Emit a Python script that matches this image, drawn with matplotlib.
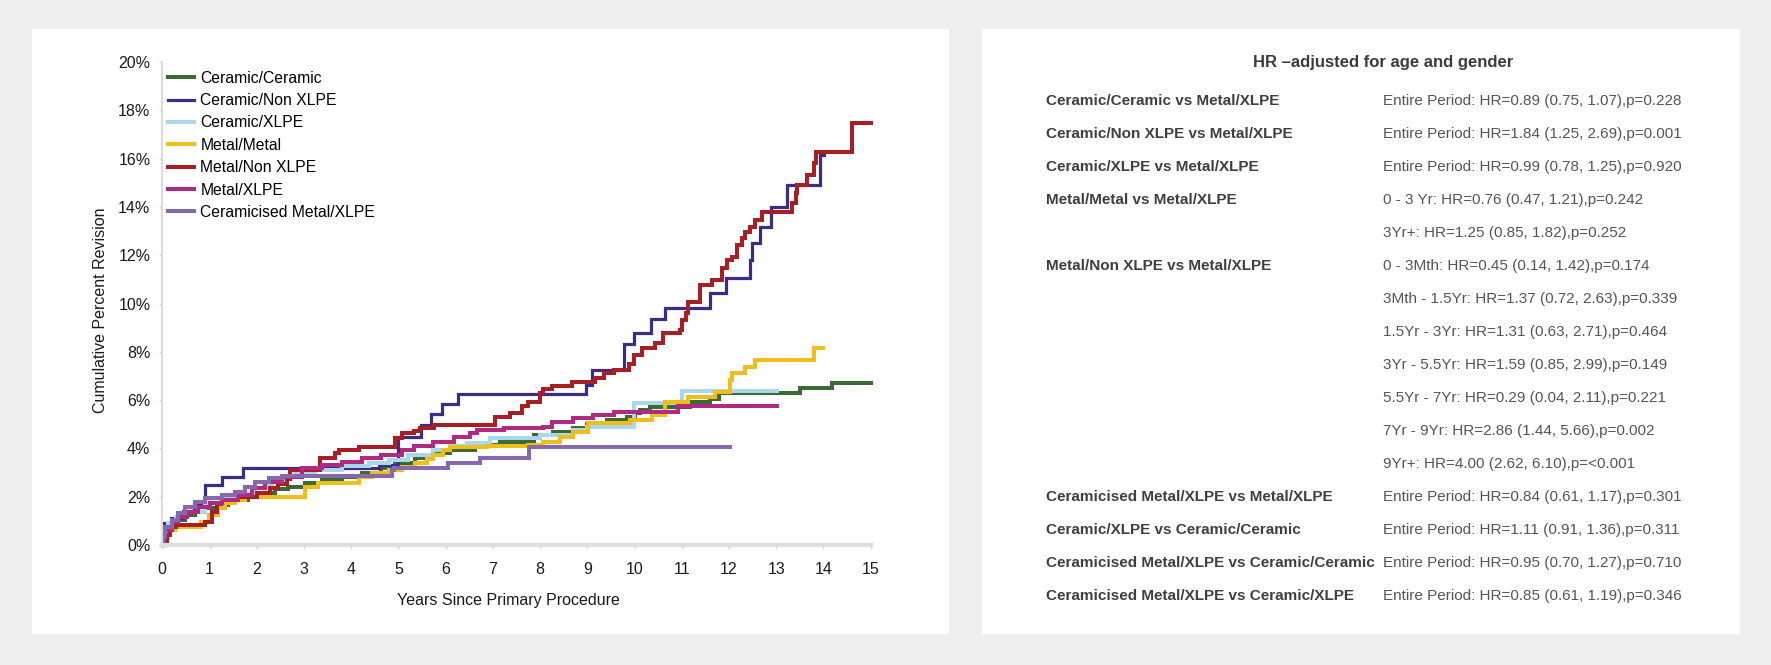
import numpy as np
import matplotlib
matplotlib.use('Agg')
import matplotlib.pyplot as plt
from matplotlib import font_manager
from matplotlib.patches import Rectangle

# pick a narrow face if one is installed
have = {f.name for f in font_manager.fontManager.ttflist}
font = 'Liberation Sans'
for name in ['Liberation Sans Narrow', 'DejaVu Sans Condensed', 'Liberation Sans']:
    if name in have:
        font = name
        break
plt.rcParams['font.family'] = [font, 'DejaVu Sans']

# cumulative percent revision (years, %)
cc_t = [0, 0.02, 0.12, 0.27, 0.48, 0.69, 0.90, 1.15, 1.40, 1.82, 2.10, 2.39, 2.67, 3.02, 3.38, 3.80, 4.22, 4.64, 4.93,
        5.36, 5.74, 6.09, 6.62, 7.15, 7.86, 8.28, 8.70, 8.99, 9.41, 9.84, 10.01, 10.12, 10.33, 10.90, 11.18, 11.60,
        11.78, 13.51, 14.18, 15.0]
cc_y = [0, 0.3, 0.76, 1.03, 1.24, 1.38, 1.52, 1.66, 1.86, 2.0, 2.14, 2.31, 2.41, 2.58, 2.69, 2.83, 2.97, 3.18, 3.38,
        3.59, 3.8, 3.93, 4.14, 4.28, 4.55, 4.69, 4.83, 5.01, 5.18, 5.29, 5.45, 5.59, 5.7, 5.73, 5.93, 6.03,
        6.28, 6.49, 6.72, 6.72]

cn_t = [0, 0.03, 0.19, 0.43, 0.67, 0.90, 1.26, 1.71, 4.59, 4.99, 5.48, 5.68, 5.92, 6.26, 8.97, 9.10, 9.77, 9.98,
        10.34, 10.65, 11.59, 11.94, 12.45, 12.48, 12.65, 12.88, 13.22, 13.93, 14.01]
cn_y = [0, 0.92, 1.1, 1.4, 1.7, 2.48, 2.83, 3.2, 3.31, 4.49, 4.97, 5.41, 5.84, 6.25, 6.63, 7.25, 8.31, 8.77,
        9.35, 9.8, 10.42, 11.07, 11.8, 12.49, 13.18, 14.0, 14.9, 16.15, 16.15]

cx_t = [0, 0.02, 0.12, 0.29, 0.48, 0.90, 1.26, 1.68, 1.97, 2.16, 2.32, 2.59, 2.81, 3.23, 3.80, 4.37, 4.79, 5.21,
        5.74, 6.09, 6.45, 6.94, 8.00, 8.70, 8.99, 9.98, 11.01, 13.01]
cx_y = [0, 0.4, 0.9, 1.15, 1.38, 1.72, 1.93, 2.14, 2.35, 2.5, 2.62, 2.8, 2.97, 3.1, 3.27, 3.38, 3.52, 3.73,
        3.93, 4.1, 4.24, 4.42, 4.55, 4.76, 4.9, 5.87, 6.39, 6.39]

mm_t = [0, 0.03, 0.12, 0.27, 0.83, 0.98, 1.19, 1.32, 1.54, 1.76, 3.02, 3.30, 4.16, 4.43, 4.79, 5.07, 5.36, 5.60,
        5.74, 5.95, 6.09, 6.87, 7.75, 8.07, 8.43, 8.70, 9.02, 9.91, 10.36, 10.65, 11.14, 11.71, 12.03, 12.06,
        12.34, 12.55, 13.79, 14.00]
mm_y = [0, 0.3, 0.62, 0.76, 0.97, 1.24, 1.52, 1.72, 1.86, 2.0, 2.41, 2.55, 2.83, 2.97, 3.1, 3.24, 3.38, 3.55,
        3.73, 3.95, 4.07, 4.11, 4.14, 4.28, 4.48, 4.69, 5.04, 5.18, 5.38, 5.93, 6.14, 6.35, 6.83, 7.13,
        7.38, 7.66, 8.14, 8.14]

mn_t = [0, 0.06, 0.10, 0.17, 0.29, 0.90, 1.05, 1.15, 1.26, 1.61, 2.00, 2.28, 2.46, 2.64, 2.71, 3.34, 3.66, 3.74,
        4.16, 4.93, 5.07, 5.32, 5.46, 5.76, 7.04, 7.37, 7.61, 7.75, 8.00, 8.07, 8.25, 8.68, 9.17, 9.35, 9.56,
        9.88, 9.98, 10.15, 10.44, 10.61, 10.97, 11.01, 11.08, 11.14, 11.39, 11.64, 11.85, 11.96, 12.06, 12.17,
        12.27, 12.34, 12.45, 12.55, 12.70, 13.33, 13.41, 13.44, 13.65, 13.79, 13.84, 14.61, 15.0]
mn_y = [0, 0.07, 0.4, 0.76, 0.83, 0.97, 1.38, 1.72, 1.86, 2.0, 2.14, 2.35, 2.53, 2.72, 3.1, 3.59, 3.8, 3.93,
        4.07, 4.44, 4.62, 4.72, 4.83, 4.97, 5.29, 5.45, 5.76, 5.93, 6.28, 6.45, 6.58, 6.76, 6.9, 7.11, 7.25,
        7.5, 7.87, 8.14, 8.35, 8.77, 8.9, 9.32, 9.59, 10.07, 10.77, 10.97, 11.46, 11.8, 11.94, 12.42,
        12.7, 12.97, 13.18, 13.46, 13.8, 14.15, 14.56, 14.9, 15.32, 15.8, 16.29, 17.49, 17.49]

mx_t = [0, 0.03, 0.06, 0.20, 0.34, 0.52, 0.76, 1.01, 1.26, 1.61, 1.89, 2.18, 2.53, 2.96, 3.38, 3.80, 4.22, 4.64,
        5.07, 5.32, 5.74, 6.17, 6.52, 6.66, 7.23, 8.07, 8.25, 8.70, 9.13, 9.56, 10.93, 13.01]
mx_y = [0, 0.4, 0.62, 0.97, 1.17, 1.38, 1.59, 1.72, 1.86, 2.07, 2.35, 2.62, 2.83, 3.17, 3.31, 3.45, 3.59, 3.73,
        3.93, 4.1, 4.28, 4.46, 4.62, 4.76, 4.83, 4.87, 5.11, 5.25, 5.38, 5.52, 5.76, 5.76]

cm_t = [0, 0.01, 0.06, 0.20, 0.34, 0.48, 0.69, 0.90, 1.26, 1.54, 1.76, 1.97, 2.25, 2.53, 4.86, 4.91, 6.06, 6.73,
        7.77, 12.03]
cm_y = [0, 0.34, 0.76, 1.03, 1.31, 1.59, 1.79, 1.93, 2.07, 2.21, 2.41, 2.62, 2.76, 2.86, 3.1, 3.17, 3.38, 3.59,
        4.07, 4.07]

series = [
    ('Ceramic/Ceramic', cc_t, cc_y, '#3b6a34'),
    ('Ceramic/Non XLPE', cn_t, cn_y, '#3b2c87'),
    ('Ceramic/XLPE', cx_t, cx_y, '#a9d7eb'),
    ('Metal/Metal', mm_t, mm_y, '#f0be1b'),
    ('Metal/Non XLPE', mn_t, mn_y, '#a51f24'),
    ('Metal/XLPE', mx_t, mx_y, '#b02a80'),
    ('Ceramicised Metal/XLPE', cm_t, cm_y, '#8669ad'),
]

year_ticks = list(range(16))
pct_ticks = list(range(0, 21, 2))

comparisons = ['Ceramic/Ceramic vs Metal/XLPE', 'Ceramic/Non XLPE vs Metal/XLPE', 'Ceramic/XLPE vs Metal/XLPE',
               'Metal/Metal vs Metal/XLPE', '', 'Metal/Non XLPE vs Metal/XLPE', '', '', '', '', '', '',
               'Ceramicised Metal/XLPE vs Metal/XLPE', 'Ceramic/XLPE vs Ceramic/Ceramic',
               'Ceramicised Metal/XLPE vs Ceramic/Ceramic', 'Ceramicised Metal/XLPE vs Ceramic/XLPE']
hr_text = ['Entire Period: HR=0.89 (0.75, 1.07),p=0.228',
           'Entire Period: HR=1.84 (1.25, 2.69),p=0.001',
           'Entire Period: HR=0.99 (0.78, 1.25),p=0.920',
           '0 - 3 Yr: HR=0.76 (0.47, 1.21),p=0.242',
           '3Yr+: HR=1.25 (0.85, 1.82),p=0.252',
           '0 - 3Mth: HR=0.45 (0.14, 1.42),p=0.174',
           '3Mth - 1.5Yr: HR=1.37 (0.72, 2.63),p=0.339',
           '1.5Yr - 3Yr: HR=1.31 (0.63, 2.71),p=0.464',
           '3Yr - 5.5Yr: HR=1.59 (0.85, 2.99),p=0.149',
           '5.5Yr - 7Yr: HR=0.29 (0.04, 2.11),p=0.221',
           '7Yr - 9Yr: HR=2.86 (1.44, 5.66),p=0.002',
           '9Yr+: HR=4.00 (2.62, 6.10),p=<0.001',
           'Entire Period: HR=0.84 (0.61, 1.17),p=0.301',
           'Entire Period: HR=1.11 (0.91, 1.36),p=0.311',
           'Entire Period: HR=0.95 (0.70, 1.27),p=0.710',
           'Entire Period: HR=0.85 (0.61, 1.19),p=0.346']
table_title = 'HR \u2013adjusted for age and gender'

W, H = 1771, 665
fig = plt.figure(figsize=(W / 100, H / 100), dpi=100, facecolor='#efefef')

# white cards
for x0, x1 in [(32, 949), (982, 1740)]:
    fig.patches.append(Rectangle((x0 / W, 1 - 634 / H), (x1 - x0) / W, (634 - 29) / H,
                                 transform=fig.transFigure, facecolor='white', edgecolor='none', zorder=-5))

ax = fig.add_axes([162.3 / W, 1 - 545 / H, 708.4 / W, 483 / H])
ax.set_facecolor('none')
for name, t, y, c in series:
    lw = 2.3 if name == 'Ceramic/Non XLPE' else 2.9
    ax.step(t, y, where='post', color=c, lw=lw, label=name, clip_on=False, solid_joinstyle='miter')

ax.set_xlim(0, 15)
ax.set_ylim(0, 20)
ax.set_xticks(year_ticks)
ax.set_xticklabels([str(v) for v in year_ticks])
ax.tick_params(axis='x', length=3, width=1, color='#d9d9d9', direction='out', pad=9,
               labelsize=11.5, labelcolor='#1a1a1a')
ax.set_yticks(pct_ticks)
ax.set_yticklabels([f'{v}%' for v in pct_ticks])
ax.tick_params(axis='y', length=2.5, width=1, color='#d9d9d9', pad=6, labelsize=11.5, labelcolor='#1a1a1a')
for s in ['top', 'right']:
    ax.spines[s].set_visible(False)
ax.spines['left'].set_color('#dcdcdc')
ax.spines['left'].set_linewidth(1.5)
ax.spines['bottom'].set_color('#dedede')
ax.spines['bottom'].set_linewidth(3)

ax.set_xlabel('Years Since Primary Procedure', fontsize=11.5, color='#1a1a1a')
ax.xaxis.set_label_coords(0.489, -0.10)
ax.set_ylabel('Cumulative Percent Revision', fontsize=11.5, color='#1a1a1a')
ax.yaxis.set_label_coords(-0.076, 0.485)

ax.legend(loc='upper left', bbox_to_anchor=(0.0086, 0.982), frameon=False, fontsize=11.3,
          handlelength=1.65, handletextpad=0.38, labelspacing=0.47, borderpad=0, borderaxespad=0)

# hazard ratio table
fig.text(1383 / W, 1 - 63 / H, table_title, ha='center', va='center', fontsize=12,
         fontweight='bold', color='#3c3c3c')
for i, (lab, val) in enumerate(zip(comparisons, hr_text)):
    yy = 1 - (100.8 + 33 * i) / H
    if lab:
        fig.text(1046 / W, yy, lab, ha='left', va='center', fontsize=11, fontweight='bold', color='#3f3f3f')
    fig.text(1383 / W, yy, val, ha='left', va='center', fontsize=11, color='#555555')

fig.savefig('out.png', dpi=100, facecolor=fig.get_facecolor())
